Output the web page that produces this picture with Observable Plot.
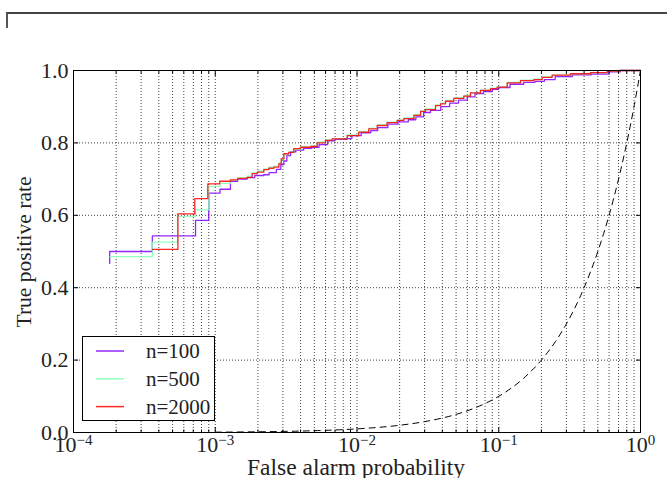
<!DOCTYPE html>
<html><head><meta charset="utf-8">
<script src="https://cdn.jsdelivr.net/npm/d3@7"></script>
<script src="https://cdn.jsdelivr.net/npm/@observablehq/plot@0.6"></script>
<style>
body{margin:0;background:#fff;}
#wrap{position:relative;width:667px;height:478px;overflow:hidden;}
#corner{position:absolute;left:6px;top:12px;width:661px;height:16px;border-top:2px solid #444;border-left:2px solid #555;box-sizing:border-box;}
</style></head><body><div id="wrap"><div id="corner"></div></div>
<script>
// ---- data ----
const seriesNames = ["n=100", "n=500", "n=2000"];
const seriesColors = ["#8000ff", "#80ffb4", "#ff0000"];

const fa100 = [1.8e-4,1.8e-4,3.6e-4,7.26e-4,9.0e-4,1.08e-3,1.28e-3,1.44e-3,1.68e-3,1.9e-3,2.2e-3,2.4e-3,2.7e-3,2.9e-3,3.05e-3,3.2e-3,3.4e-3,3.7e-3,4.2e-3,4.8e-3,5.4e-3,6.2e-3,7.0e-3,8.5e-3,9.2e-3,1.07e-2,1.25e-2,1.4e-2,1.65e-2,1.95e-2,2.3e-2,2.6e-2,2.95e-2,3.3e-2,3.9e-2,4.5e-2,5.2e-2,6.0e-2,6.8e-2,7.8e-2,9.0e-2,0.1,0.12,0.15,0.18,0.21,0.25,0.33,0.45,0.6,0.72,1];
const tpr100 = [0.467,0.500,0.543,0.586,0.661,0.672,0.694,0.700,0.704,0.710,0.712,0.718,0.727,0.740,0.750,0.765,0.775,0.780,0.785,0.788,0.795,0.806,0.810,0.812,0.820,0.828,0.834,0.842,0.852,0.858,0.864,0.872,0.884,0.890,0.900,0.910,0.918,0.927,0.936,0.942,0.948,0.953,0.962,0.967,0.970,0.975,0.983,0.988,0.990,0.996,1.0,1.0];

const fa500 = [1.8e-4,3.6e-4,5.45e-4,7.26e-4,9.0e-4,1.08e-3,1.28e-3,1.44e-3,1.68e-3,1.82e-3,1.98e-3,2.2e-3,2.39e-3,2.59e-3,2.81e-3,2.92e-3,3.05e-3,3.3e-3,3.58e-3,3.99e-3,4.7e-3,5.24e-3,5.99e-3,6.68e-3,8.07e-3,8.53e-3,1.03e-2,1.21e-2,1.39e-2,1.63e-2,1.92e-2,2.14e-2,2.52e-2,2.81e-2,3.04e-2,3.58e-2,3.88e-2,4.21e-2,4.82e-2,5.67e-2,6.32e-2,7.43e-2,8.75e-2,9.75e-2,0.1147,0.1423,0.1768,0.2025,0.238,0.321,0.444,0.582,0.71,1];
const tpr500 = [0.486,0.526,0.597,0.615,0.680,0.688,0.697,0.703,0.708,0.717,0.722,0.728,0.733,0.735,0.745,0.755,0.768,0.775,0.782,0.789,0.792,0.802,0.808,0.812,0.813,0.822,0.831,0.840,0.850,0.857,0.863,0.869,0.879,0.888,0.894,0.905,0.910,0.917,0.924,0.931,0.939,0.946,0.951,0.955,0.967,0.973,0.976,0.982,0.987,0.991,0.994,0.998,1.0,1.0];

const fa2000 = [3.61e-4,5.45e-4,7.17e-4,8.86e-4,1.076e-3,1.28e-3,1.44e-3,1.68e-3,1.82e-3,1.98e-3,2.20e-3,2.39e-3,2.59e-3,2.81e-3,2.92e-3,3.05e-3,3.30e-3,3.58e-3,3.99e-3,4.70e-3,5.24e-3,5.99e-3,6.68e-3,8.07e-3,8.53e-3,1.03e-2,1.21e-2,1.39e-2,1.63e-2,1.92e-2,2.14e-2,2.52e-2,2.81e-2,3.04e-2,3.58e-2,3.88e-2,4.21e-2,4.82e-2,5.67e-2,6.32e-2,7.43e-2,8.75e-2,9.75e-2,0.1147,0.1423,0.1768,0.2025,0.238,0.321,0.444,0.582,0.71,1];
const tpr2000 = [0.506,0.604,0.646,0.687,0.694,0.698,0.702,0.705,0.715,0.719,0.726,0.730,0.733,0.742,0.756,0.770,0.774,0.784,0.788,0.790,0.800,0.807,0.811,0.811,0.820,0.830,0.839,0.848,0.856,0.862,0.867,0.876,0.887,0.892,0.903,0.908,0.915,0.923,0.929,0.938,0.945,0.950,0.954,0.966,0.972,0.975,0.981,0.987,0.991,0.994,0.998,1.0,1.0];

// chance diagonal (dashed)
const chanceX = [0.001,0.002,0.005,0.01,0.02,0.03,0.05,0.07,0.1,0.15,0.2,0.25,0.3,0.4,0.5,0.6,0.7,0.8,0.9,1.0];
const chanceY = [0.001,0.002,0.005,0.01,0.02,0.03,0.05,0.07,0.1,0.15,0.2,0.25,0.3,0.4,0.5,0.6,0.7,0.8,0.9,1.0];

// ticks
const xMajorTicks = [1e-4, 1e-3, 1e-2, 1e-1, 1];
const xTickExponents = ["−4", "−3", "−2", "−1", "0"];
const xMinorMultipliers = [2, 3, 4, 5, 6, 7, 8, 9];
const yTicks = [0, 0.2, 0.4, 0.6, 0.8, 1.0];
const yTickLabels = ["0.0", "0.2", "0.4", "0.6", "0.8", "1.0"];
const xLabel = "False alarm probability";
const yLabel = "True positive rate";

// ---- build tables ----
const xMinorTicks = [];
xMajorTicks.slice(0, -1).forEach(d => xMinorMultipliers.forEach(m => xMinorTicks.push(d * m)));
const xAllTicks = xMajorTicks.concat(xMinorTicks);

const fas = [fa100, fa500, fa2000], tprs = [tpr100, tpr500, tpr2000];
const rows = [];
fas.forEach((fa, i) => fa.forEach((x, j) => rows.push({series: seriesNames[i], x, y: tprs[i][j]})));
const chance = chanceX.map((x, i) => ({x, y: chanceY[i]}));

const font = "'Liberation Serif', 'DejaVu Serif', serif";
const tickOpts = {label: null, tickFormat: () => "", stroke: "black", strokeWidth: 1};

const svg = Plot.plot({
  width: 667, height: 478,
  marginLeft: 73, marginRight: 27, marginTop: 70, marginBottom: 46,
  style: {fontFamily: font, fontSize: "22px", color: "black", background: "transparent", overflow: "visible"},
  x: {type: "log", domain: [1e-4, 1], axis: null},
  y: {domain: [0, 1], axis: null},
  color: {domain: seriesNames, range: seriesColors},
  marks: [
    Plot.gridX(xAllTicks, {stroke: "black", strokeOpacity: 0.75, strokeWidth: 1, strokeDasharray: "1,2"}),
    Plot.gridY(yTicks, {stroke: "black", strokeOpacity: 0.75, strokeWidth: 1, strokeDasharray: "1,2"}),
    Plot.line(chance, {x: "x", y: "y", stroke: "black", strokeWidth: 1, strokeDasharray: "6,5", curve: "monotone-x"}),
    Plot.line(rows, {x: "x", y: "y", z: "series", stroke: "series", curve: "step-after", strokeWidth: 1.3, strokeOpacity: 0.85}),
    Plot.frame({stroke: "black", strokeWidth: 1}),
    Plot.axisX(xMajorTicks, {...tickOpts, anchor: "bottom", tickSize: -5}),
    Plot.axisX(xMajorTicks, {...tickOpts, anchor: "top", tickSize: -5}),
    Plot.axisX(xMinorTicks, {...tickOpts, anchor: "bottom", tickSize: -2.5}),
    Plot.axisX(xMinorTicks, {...tickOpts, anchor: "top", tickSize: -2.5}),
    Plot.axisY(yTicks, {...tickOpts, anchor: "left", tickSize: -5}),
    Plot.axisY(yTicks, {...tickOpts, anchor: "right", tickSize: -5}),
    Plot.axisX(xMajorTicks, {anchor: "bottom", label: null, tickSize: 0, tickPadding: 4,
      tickFormat: d => "10^" + xTickExponents[xMajorTicks.indexOf(d)], fill: "#222"}),
    Plot.axisY(yTicks, {anchor: "left", label: null, tickSize: 0, tickPadding: 5,
      tickFormat: d => yTickLabels[yTicks.indexOf(d)], fill: "#222"})
  ]
});

document.getElementById("wrap").appendChild(svg);
const s = d3.select(svg).style("position", "absolute").style("left", "0").style("top", "0");

// remove the empty texts of the tick-only axes
s.selectAll("text").filter(function() { return this.textContent === ""; }).remove();

// superscript exponents on x tick labels
s.selectAll("text").filter(function() { return this.textContent.indexOf("^") >= 0; }).each(function() {
  const parts = this.textContent.split("^");
  const t = d3.select(this);
  t.text(parts[0]);
  t.append("tspan").attr("dy", "-0.45em").style("font-size", "15px").text(parts[1]);
});

function addText(parent, txt, size) {
  return parent.append("text").style("font-family", font).style("font-size", size + "px").attr("fill", "#222").text(txt);
}

// axis titles
addText(s, xLabel, 23.5).attr("x", 356).attr("y", 475).attr("text-anchor", "middle");
addText(s, yLabel, 21.5).attr("transform", "translate(31,252) rotate(-90)").attr("text-anchor", "middle");

// legend
const lg = s.append("g");
lg.append("rect").attr("x", 82.5).attr("y", 336.5).attr("width", 132).attr("height", 84)
  .attr("fill", "white").attr("stroke", "black").attr("stroke-width", 1);
seriesNames.forEach((name, i) => {
  const yy = 351 + i * 27.8;
  lg.append("line").attr("x1", 96).attr("x2", 124).attr("y1", yy).attr("y2", yy)
    .attr("stroke", seriesColors[i]).attr("stroke-width", 1.5).attr("stroke-opacity", 0.85);
  addText(lg, name, 21).attr("x", 146).attr("y", yy).attr("dy", "0.35em").attr("text-anchor", "start");
});
</script>
</body></html>
